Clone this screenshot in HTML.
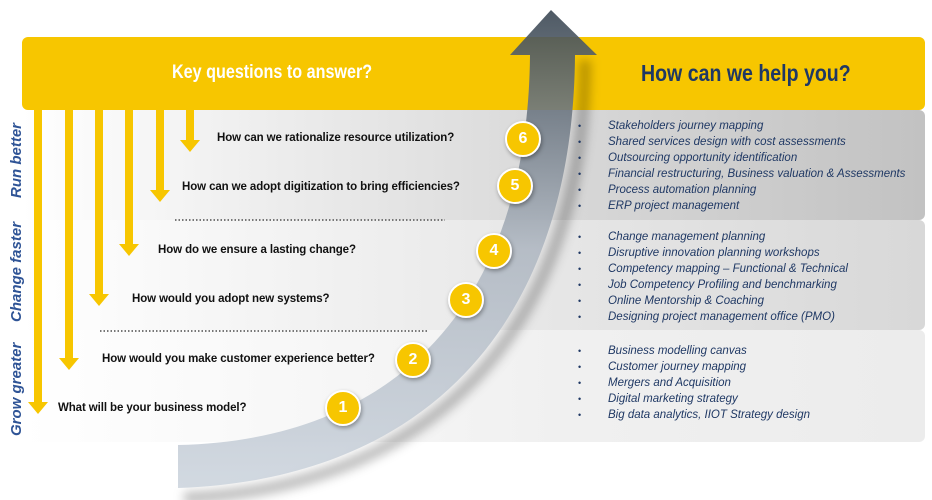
<!DOCTYPE html>
<html><head><style>
body{margin:0;width:932px;height:500px;background:#fff;overflow:hidden;position:relative;font-family:"Liberation Sans",sans-serif}
.q{position:absolute;font-size:11.5px;font-weight:bold;color:#111;white-space:nowrap;letter-spacing:-0.1px}
.side{position:absolute;color:#2f5496;font-style:italic;font-weight:bold;font-size:15px;transform:rotate(-90deg);transform-origin:left top;white-space:nowrap}
.list{position:absolute;left:578px;font-style:italic;font-size:11.5px;color:#1f3864;line-height:16px;margin:0;padding:0;list-style:none}
.list li{position:relative;padding-left:30px;white-space:nowrap}
.list li:before{content:"•";position:absolute;left:0;font-style:normal;font-size:9px}
.c{position:absolute;width:32px;height:32px;border-radius:50%;background:#f7c600;border:2px solid #fff;box-shadow:1px 2px 4px rgba(0,0,0,.35);color:#fff;font-weight:bold;font-size:16px;text-align:center;line-height:32px}
</style></head><body>
<svg width="932" height="500" style="position:absolute;left:0;top:0">
<defs>
<linearGradient id="b1" x1="0" x2="1"><stop offset="0" stop-color="#fff"/><stop offset=".6" stop-color="#d8d8d8"/><stop offset="1" stop-color="#c2c2c2"/></linearGradient>
<linearGradient id="b2" x1="0" x2="1"><stop offset="0" stop-color="#fff"/><stop offset=".6" stop-color="#e6e6e6"/><stop offset="1" stop-color="#d8d8d8"/></linearGradient>
<linearGradient id="b3" x1="0" x2="1"><stop offset="0" stop-color="#fff"/><stop offset=".6" stop-color="#f0f0f0"/><stop offset="1" stop-color="#ececec"/></linearGradient>
<linearGradient id="sw" x1="0" y1="1" x2="0" y2="0"><stop offset="0" stop-color="#cdd5de"/><stop offset=".5" stop-color="#b0b8c2"/><stop offset="1" stop-color="#3c4854"/></linearGradient>
<filter id="sh"><feGaussianBlur stdDeviation="5"/></filter>
</defs>
<rect x="22" y="110" width="903" height="110" fill="url(#b1)" rx="6"/>
<rect x="22" y="220" width="903" height="110" fill="url(#b2)" rx="6"/>
<rect x="22" y="330" width="903" height="112" fill="url(#b3)" rx="6"/>
<rect x="22" y="37" width="903" height="73" rx="6" fill="#f7c600"/>
<g stroke="#777" stroke-width="2" stroke-dasharray="1.5 2">
<line x1="175" y1="220" x2="445" y2="220"/><line x1="100" y1="331" x2="428" y2="331"/>
</g>
<g fill="#f7c600">
<rect x="34" y="110" width="8" height="294"/><polygon points="28,402 48,402 38,414"/>
<rect x="65" y="110" width="8" height="250"/><polygon points="59,358 79,358 69,370"/>
<rect x="95" y="110" width="8" height="186"/><polygon points="89,294 109,294 99,306"/>
<rect x="125" y="110" width="8" height="136"/><polygon points="119,244 139,244 129,256"/>
<rect x="156" y="110" width="8" height="82"/><polygon points="150,190 170,190 160,202"/>
<rect x="186" y="110" width="8" height="32"/><polygon points="180,140 200,140 190,152"/>
</g>
<path d="M184,498 C430,488 585,330 585,60" stroke="#000" stroke-opacity=".25" stroke-width="12" fill="none" filter="url(#sh)"/>
<path d="M178,488 C420,480 573,330 575,55 L597,55 L551,10 L510,55 L530,55 C528,300 400,440 178,445 Z" fill="url(#sw)" fill-opacity=".9"/>
</svg>
<div style="position:absolute;left:172px;top:62px;font-size:19px;font-weight:bold;color:#fff;transform:scaleX(.85);transform-origin:left">Key questions to answer?</div>
<div style="position:absolute;left:641px;top:60px;font-size:23px;font-weight:bold;color:#1f3864;transform:scaleX(.85);transform-origin:left">How can we help you?</div>
<div class="side" style="left:8px;top:198px">Run better</div>
<div class="side" style="left:8px;top:322px">Change faster</div>
<div class="side" style="left:8px;top:436px">Grow greater</div>
<div class="q" style="left:217px;top:132px">How can we rationalize resource utilization?</div>
<div class="q" style="left:182px;top:181px">How can we adopt digitization to bring efficiencies?</div>
<div class="q" style="left:158px;top:244px">How do we ensure a lasting change?</div>
<div class="q" style="left:132px;top:293px">How would you adopt new systems?</div>
<div class="q" style="left:102px;top:353px">How would you make customer experience better?</div>
<div class="q" style="left:58px;top:402px">What will be your business model?</div>
<div class="c" style="left:325px;top:390px">1</div>
<div class="c" style="left:395px;top:342px">2</div>
<div class="c" style="left:448px;top:282px">3</div>
<div class="c" style="left:476px;top:233px">4</div>
<div class="c" style="left:497px;top:168px">5</div>
<div class="c" style="left:505px;top:121px">6</div>
<ul class="list" style="top:118px"><li>Stakeholders journey mapping</li><li>Shared services design with cost assessments</li><li>Outsourcing opportunity identification</li><li>Financial restructuring, Business valuation &amp; Assessments</li><li>Process automation planning</li><li>ERP project management</li></ul>
<ul class="list" style="top:229px"><li>Change management planning</li><li>Disruptive innovation planning workshops</li><li>Competency mapping – Functional &amp; Technical</li><li>Job Competency Profiling and benchmarking</li><li>Online Mentorship &amp; Coaching</li><li>Designing project management office (PMO)</li></ul>
<ul class="list" style="top:343px"><li>Business modelling canvas</li><li>Customer journey mapping</li><li>Mergers and Acquisition</li><li>Digital marketing strategy</li><li>Big data analytics, IIOT Strategy design</li></ul>
</body></html>
